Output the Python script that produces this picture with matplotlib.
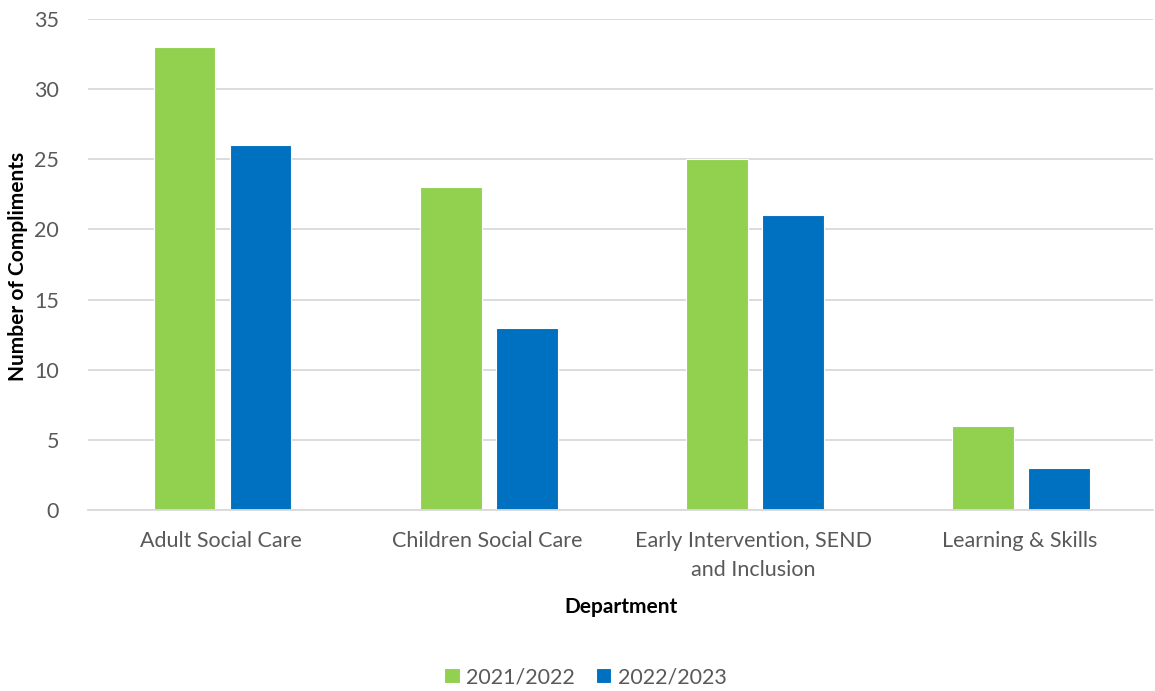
import matplotlib
matplotlib.use('Agg')
import matplotlib.pyplot as plt
import numpy as np

# --- Data ---
departments = ['Adult Social Care', 'Children Social Care',
               'Early Intervention, SEND\nand Inclusion', 'Learning & Skills']
compliments_2122 = [33, 23, 25, 6]
compliments_2223 = [26, 13, 21, 3]
series_labels = ['2021/2022', '2022/2023']

plt.rcParams['font.family'] = ['Lato', 'DejaVu Sans']
text_col = '#595959'
grid_col = '#D9D9D9'

fig = plt.figure(figsize=(11.55, 6.91), dpi=100)
ax = fig.add_axes([0.0762, 0.262, 0.922, 0.7105])

x = np.arange(len(departments))
w = 0.232
off = 0.1425
ax.bar(x - off + 0.005, compliments_2122, w, color='#92D050', edgecolor='white',
       linewidth=0.8, label=series_labels[0], zorder=3)
ax.bar(x + off + 0.005, compliments_2223, w, color='#0070C0', edgecolor='white',
       linewidth=0.8, label=series_labels[1], zorder=3)

ax.set_xlim(-0.5, len(departments) - 0.5)
ax.set_ylim(0, 35)
ax.set_yticks(range(0, 36, 5))
ax.yaxis.grid(True, color=grid_col, linewidth=1.3, zorder=0)
for s in ['top', 'right', 'left']:
    ax.spines[s].set_visible(False)
ax.spines['bottom'].set_color(grid_col)
ax.spines['bottom'].set_linewidth(1.3)
ax.spines['bottom'].set_zorder(4)

ax.set_xticks(x)
ax.set_xticklabels(departments, fontsize=15.5, color=text_col, linespacing=1.6)
ax.tick_params(axis='x', length=0, pad=15)
ax.tick_params(axis='y', length=0, pad=21, labelsize=15.5, labelcolor=text_col)

# axis titles placed in figure coords to match the reference layout
fig.text(0.5375, 0.1216, 'Department', fontsize=15, fontweight='bold',
         ha='center', va='center')
fig.text(0.0156, 0.615, 'Number of Compliments', fontsize=15, fontweight='bold',
         ha='center', va='center', rotation=90)

fig.legend(loc='center', bbox_to_anchor=(0.507, 0.02), ncol=2, frameon=False,
           fontsize=15.5, labelcolor=text_col, handlelength=0.7, handleheight=0.7,
           handletextpad=0.3, columnspacing=1.0)

fig.savefig('out.png', dpi=100)
